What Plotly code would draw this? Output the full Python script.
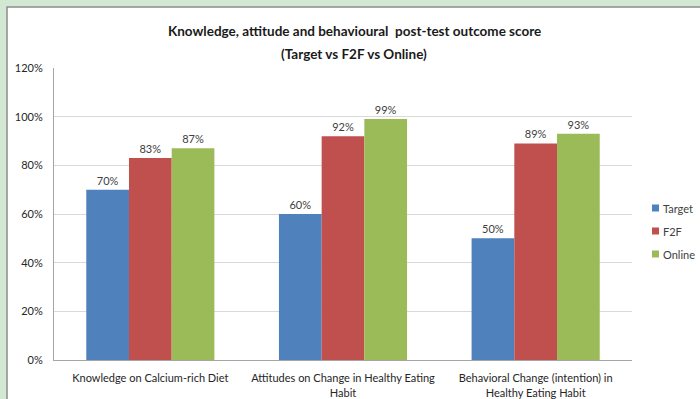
import plotly.graph_objects as go

categories = ["Knowledge on Calcium-rich Diet",
              "Attitudes on Change in Healthy Eating<br>Habit",
              "Behavioral Change (intention) in<br>Healthy Eating Habit"]
target = [70, 60, 50]
f2f = [83, 92, 89]
online = [87, 99, 93]
series_names = ["Target", "F2F", "Online"]
colors = ["#4f81bd", "#c0504d", "#9bbb59"]
y_ticks = [0, 20, 40, 60, 80, 100, 120]

FONT = "Lato"
W, H = 700, 399
L, R, T, B = 54, 68, 68, 39
PH = H - T - B
PW = W - L - R

def px_x(x):
    return (x - L) / PW

def px_y(y):
    return (H - B - y) / PH

fig = go.Figure()
for name, vals, c in zip(series_names, [target, f2f, online], colors):
    fig.add_trace(go.Bar(
        x=categories, y=vals, name=name, marker_color=c, marker_line_width=0,
        text=[f"{v}%" for v in vals], textposition="outside",
        textfont=dict(family=FONT, size=11, color="#404040"),
        cliponaxis=False,
    ))

shapes = [dict(type="rect", xref="paper", yref="paper", layer="below",
               x0=px_x(7), x1=px_x(720), y0=px_y(420), y1=px_y(7),
               fillcolor="white", line=dict(color="#8c8c8c", width=1.5))]
annotations = [
    dict(text="<b>Knowledge, attitude and behavioural  post-test outcome score</b>",
         xref="paper", yref="paper", x=px_x(354), y=px_y(21), showarrow=False,
         font=dict(family=FONT, size=13.5, color="#1a1a1a")),
    dict(text="<b>(Target vs F2F vs Online)</b>",
         xref="paper", yref="paper", x=px_x(354), y=px_y(44), showarrow=False,
         font=dict(family=FONT, size=13.5, color="#1a1a1a")),
]

# manual legend (small squares + labels)
leg_y = [208, 231, 254]
for name, c, yy in zip(series_names, colors, leg_y):
    shapes.append(dict(type="rect", xref="paper", yref="paper",
                       x0=px_x(652), x1=px_x(659), y0=px_y(yy + 3.5), y1=px_y(yy - 3.5),
                       fillcolor=c, line=dict(width=0)))
    annotations.append(dict(text=name, xref="paper", yref="paper",
                            x=px_x(661), y=px_y(yy), xanchor="left", yanchor="middle",
                            showarrow=False,
                            font=dict(family=FONT, size=11, color="#404040")))

fig.update_layout(
    width=W, height=H,
    margin=dict(l=L, r=R, t=T, b=B, autoexpand=False),
    paper_bgcolor="#d3e8d2",
    plot_bgcolor="white",
    barmode="group", bargap=0.335, bargroupgap=0,
    font=dict(family=FONT, size=11, color="#404040"),
    showlegend=False,
    xaxis=dict(showgrid=False, showline=True, linecolor="#a6a6a6", linewidth=1,
               ticks="", automargin=False, ticklabelstandoff=8,
               tickfont=dict(family=FONT, size=11, color="#262626")),
    yaxis=dict(range=[0, 120], tickvals=y_ticks,
               ticktext=[f"{v}%" for v in y_ticks],
               showgrid=True, gridcolor="#d9d9d9", gridwidth=1,
               showline=True, linecolor="#a6a6a6", linewidth=1,
               zeroline=False, ticks="", ticklabelstandoff=8, automargin=False,
               tickfont=dict(family=FONT, size=11, color="#262626")),
    shapes=shapes,
    annotations=annotations,
)

fig.write_html("out.html")
